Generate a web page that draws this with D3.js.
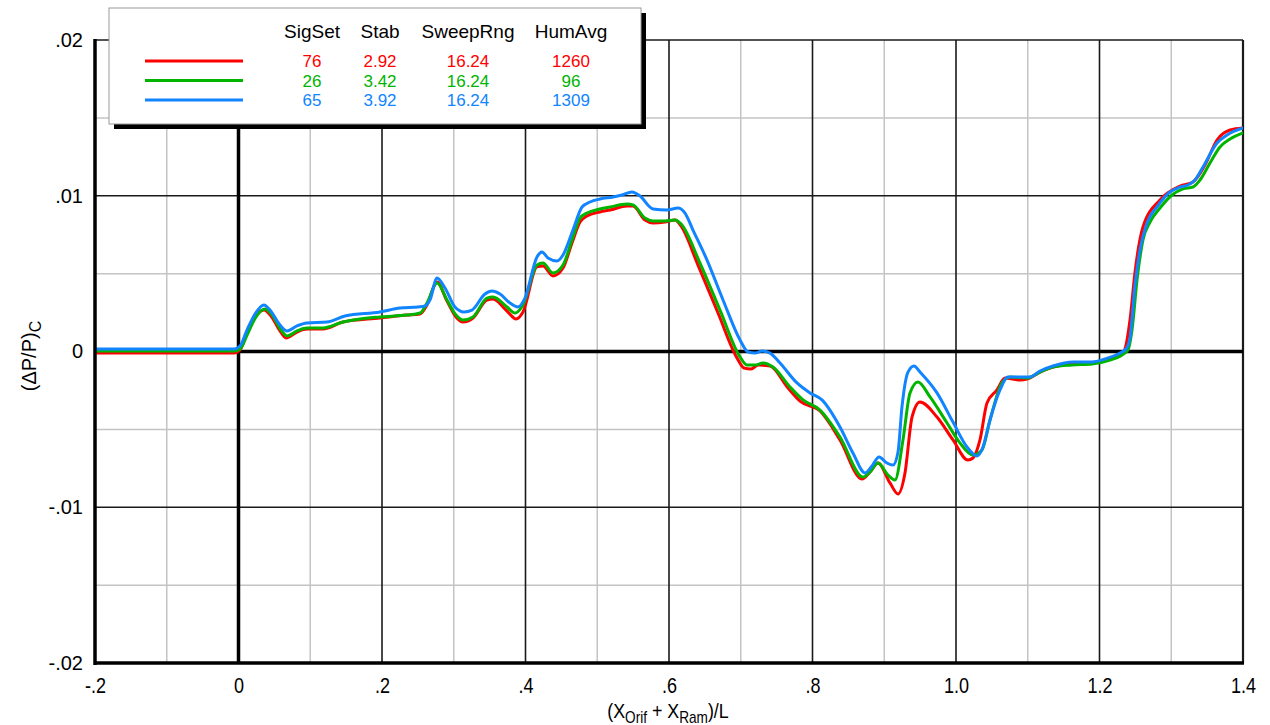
<!DOCTYPE html>
<html>
<head>
<meta charset="utf-8">
<script src="https://cdn.jsdelivr.net/npm/d3@7"></script>
<style>
  html, body { margin: 0; padding: 0; background: #fff; }
  svg { display: block; font-family: "Liberation Sans", Arial, sans-serif; }
</style>
</head>
<body>
<svg id="chart" width="1270" height="725"></svg>
<script>
// Pressure signature curves, (dP/P)c against (X_orif + X_ram)/L
const redX = [-0.2,-0.0063,0.0021,0.0118,0.0230,0.0355,0.0453,0.0578,0.0662,0.0815,0.0955,0.1178,0.1456,0.1972,0.2348,0.2530,0.2627,0.2767,0.2906,0.3031,0.3129,0.3268,0.3463,0.3547,0.3742,0.3868,0.3965,0.4160,0.4244,0.4383,0.4523,0.4648,0.4760,0.4857,0.5038,0.5178,0.5415,0.5498,0.5666,0.5777,0.5944,0.6084,0.6167,0.6404,0.6683,0.6948,0.7045,0.7143,0.7241,0.7408,0.7658,0.7840,0.8105,0.8383,0.8690,0.8801,0.8913,0.9080,0.9192,0.9289,0.9387,0.9498,0.9735,0.9958,1.0167,1.0237,1.0334,1.0432,1.0571,1.0683,1.0892,1.0990,1.1171,1.1352,1.1617,1.1895,1.2146,1.2286,1.2355,1.2425,1.2495,1.2606,1.2843,1.3122,1.3303,1.3470,1.3638,1.3819,1.4];
const redY = [-0.0001,-0.0001,0.0001,0.00119,0.00222,0.00266,0.00228,0.00132,0.00087,0.00125,0.00144,0.00144,0.00189,0.00215,0.00234,0.00241,0.00299,0.00446,0.00324,0.00222,0.00189,0.00215,0.00331,0.00337,0.0026,0.00209,0.00254,0.00543,0.00549,0.00485,0.00536,0.00697,0.00831,0.0087,0.00896,0.00908,0.00934,0.00934,0.00844,0.00825,0.00831,0.00844,0.00806,0.00555,0.00247,-0.00042,-0.00106,-0.00112,-0.00087,-0.00093,-0.00234,-0.00324,-0.00382,-0.00568,-0.00819,-0.00774,-0.00716,-0.00844,-0.00915,-0.0078,-0.00421,-0.00324,-0.00421,-0.00568,-0.00697,-0.00684,-0.00568,-0.00331,-0.00247,-0.0017,-0.00183,-0.00177,-0.00132,-0.001,-0.0008,-0.00074,-0.00048,-0.00029,0.00016,0.00202,0.0051,0.00799,0.00973,0.01062,0.01088,0.01197,0.01358,0.01422,0.01435];

const greenX = [-0.2,-0.0063,0.0021,0.0132,0.0244,0.0369,0.0467,0.0592,0.0676,0.0815,0.0955,0.1178,0.1456,0.1972,0.2348,0.2530,0.2627,0.2767,0.2906,0.3031,0.3129,0.3268,0.3463,0.3547,0.3742,0.3854,0.3965,0.4160,0.4244,0.4383,0.4523,0.4648,0.4760,0.4857,0.5038,0.5178,0.5415,0.5498,0.5666,0.5777,0.5944,0.6084,0.6167,0.6432,0.6711,0.6990,0.7087,0.7199,0.7310,0.7449,0.7686,0.7868,0.8105,0.8383,0.8704,0.8801,0.8913,0.9052,0.9150,0.9261,0.9359,0.9470,0.9638,0.9875,1.0056,1.0237,1.0362,1.0474,1.0641,1.0753,1.0990,1.1171,1.1352,1.1617,1.1895,1.2146,1.2314,1.2397,1.2453,1.2523,1.2606,1.2704,1.2843,1.3010,1.3164,1.3303,1.3401,1.3540,1.3679,1.3819,1.4];
const greenY = [0.00003,0.00003,0.00016,0.00119,0.00222,0.00273,0.00234,0.00138,0.001,0.00132,0.00151,0.00151,0.00189,0.00222,0.00234,0.00247,0.00311,0.0044,0.00331,0.00234,0.00202,0.00222,0.00343,0.0035,0.00286,0.00247,0.00299,0.00555,0.00568,0.00504,0.00555,0.00716,0.00857,0.00889,0.00915,0.00928,0.00947,0.00941,0.00857,0.00838,0.00838,0.00844,0.00819,0.00568,0.00266,-0.00035,-0.00087,-0.00087,-0.00074,-0.001,-0.00228,-0.00311,-0.00376,-0.00549,-0.00806,-0.00774,-0.00716,-0.00793,-0.00825,-0.00568,-0.00266,-0.00196,-0.00292,-0.00459,-0.00588,-0.00665,-0.00632,-0.0044,-0.00202,-0.00164,-0.0017,-0.00132,-0.001,-0.00087,-0.0008,-0.00055,-0.00022,0.0001,0.00138,0.00459,0.00716,0.00831,0.00921,0.01005,0.01044,0.01056,0.01101,0.0121,0.01313,0.01364,0.01403];

const blueX = [-0.2,-0.0063,0.0021,0.0118,0.0230,0.0355,0.0439,0.0578,0.0676,0.0815,0.0955,0.1233,0.1484,0.1972,0.2251,0.2502,0.2599,0.2669,0.2767,0.2878,0.3017,0.3143,0.3254,0.3435,0.3533,0.3645,0.3784,0.3895,0.3993,0.4160,0.4230,0.4314,0.4439,0.4523,0.4662,0.4788,0.4899,0.5038,0.5220,0.5345,0.5484,0.5596,0.5777,0.5972,0.6125,0.6223,0.6334,0.6530,0.6753,0.6990,0.7101,0.7199,0.7296,0.7408,0.7547,0.7784,0.7965,0.8132,0.8383,0.8564,0.8732,0.8829,0.8927,0.9038,0.9122,0.9192,0.9247,0.9331,0.9415,0.9498,0.9735,0.9958,1.0153,1.0293,1.0376,1.0474,1.0613,1.0725,1.0892,1.1031,1.1171,1.1352,1.1631,1.1895,1.2077,1.2286,1.2369,1.2425,1.2495,1.2564,1.2662,1.2801,1.2983,1.3122,1.3233,1.3331,1.3443,1.3638,1.3777,1.4];
const blueY = [0.00016,0.00016,0.00035,0.00138,0.00241,0.00299,0.00266,0.0017,0.00132,0.00164,0.00183,0.00189,0.00228,0.00254,0.00279,0.00286,0.00292,0.00331,0.00472,0.00408,0.00286,0.00254,0.00266,0.00369,0.00388,0.00369,0.00311,0.00286,0.00343,0.00607,0.00639,0.006,0.00581,0.0062,0.0078,0.00928,0.0096,0.00979,0.00992,0.01005,0.01024,0.00998,0.00915,0.00908,0.00921,0.00889,0.0078,0.00587,0.00331,0.00074,-0.00003,-0.0001,0.00003,-0.0001,-0.00074,-0.00202,-0.00266,-0.00311,-0.00485,-0.00652,-0.0078,-0.00735,-0.00677,-0.00716,-0.00729,-0.00645,-0.00356,-0.00132,-0.00093,-0.00132,-0.00266,-0.00453,-0.00613,-0.00671,-0.00613,-0.0044,-0.00247,-0.00164,-0.00164,-0.00164,-0.00125,-0.00093,-0.00067,-0.00067,-0.00048,-0.0001,0.00016,0.00087,0.00427,0.00652,0.00825,0.00928,0.01024,0.01056,0.01069,0.01101,0.01185,0.01339,0.0139,0.01435];

// Legend table
const seriesColors = ["#ff0000", "#00b400", "#1184ff"];
const legendHeaders = ["SigSet", "Stab", "SweepRng", "HumAvg"];
const sigSet = ["76", "26", "65"];
const stab = ["2.92", "3.42", "3.92"];
const sweepRng = ["16.24", "16.24", "16.24"];
const humAvg = ["1260", "96", "1309"];

// Axis ticks
const xTicks = [-0.2, 0, 0.2, 0.4, 0.6, 0.8, 1.0, 1.2, 1.4];
const xTickLabels = ["-.2", "0", ".2", ".4", ".6", ".8", "1.0", "1.2", "1.4"];
const yTicks = [-0.02, -0.01, 0, 0.01, 0.02];
const yTickLabels = ["-.02", "-.01", "0", ".01", ".02"];

const svg = d3.select("#chart");
const plot = { left: 95, right: 1243, top: 40, bottom: 663 };

const x = d3.scaleLinear().domain([-0.2, 1.4]).range([plot.left, plot.right]);
const y = d3.scaleLinear().domain([-0.02, 0.02]).range([plot.bottom, plot.top]);

// Grid: minor lines every 0.1 / 0.005, major every 0.2 / 0.01
const grid = svg.append("g");
const xMinor = d3.range(-1, 14, 2).map(i => i / 10);
const yMinor = [-0.015, -0.005, 0.005, 0.015];
grid.selectAll(".xm").data(xMinor).join("line")
  .attr("x1", d => x(d)).attr("x2", d => x(d))
  .attr("y1", plot.top).attr("y2", plot.bottom)
  .attr("stroke", "#c4c4c4").attr("stroke-width", 1.5);
grid.selectAll(".ym").data(yMinor).join("line")
  .attr("x1", plot.left).attr("x2", plot.right)
  .attr("y1", d => y(d)).attr("y2", d => y(d))
  .attr("stroke", "#c4c4c4").attr("stroke-width", 1.5);
grid.selectAll(".xM").data(xTicks.filter(d => d !== 0 && d !== -0.2 && d !== 1.4)).join("line")
  .attr("x1", d => x(d)).attr("x2", d => x(d))
  .attr("y1", plot.top).attr("y2", plot.bottom)
  .attr("stroke", "#1a1a1a").attr("stroke-width", 1.6);
grid.selectAll(".yM").data(yTicks.filter(d => d !== 0 && d !== -0.02)).join("line")
  .attr("x1", plot.left).attr("x2", plot.right)
  .attr("y1", d => y(d)).attr("y2", d => y(d))
  .attr("stroke", "#1a1a1a").attr("stroke-width", 1.6);

// Frame and zero lines
svg.append("line").attr("x1", x(1.4)).attr("x2", x(1.4)).attr("y1", plot.top).attr("y2", plot.bottom)
  .attr("stroke", "#1a1a1a").attr("stroke-width", 2.2);
svg.append("line").attr("x1", x(0)).attr("x2", x(0)).attr("y1", plot.top).attr("y2", plot.bottom)
  .attr("stroke", "#000").attr("stroke-width", 3.5);
svg.append("line").attr("x1", plot.left).attr("x2", plot.right).attr("y1", y(0)).attr("y2", y(0))
  .attr("stroke", "#000").attr("stroke-width", 3.5);

// Curves
const series = [
  { xs: redX, ys: redY, color: seriesColors[0] },
  { xs: greenX, ys: greenY, color: seriesColors[1] },
  { xs: blueX, ys: blueY, color: seriesColors[2] }
];
svg.append("clipPath").attr("id", "clip").append("rect")
  .attr("x", plot.left).attr("y", plot.top)
  .attr("width", plot.right - plot.left).attr("height", plot.bottom - plot.top);
const line = d3.line().x(d => x(d[0])).y(d => y(d[1])).curve(d3.curveMonotoneX);
svg.append("g").attr("clip-path", "url(#clip)")
  .selectAll("path").data(series).join("path")
  .attr("d", s => line(s.xs.map((v, i) => [v, s.ys[i]])))
  .attr("fill", "none").attr("stroke", s => s.color)
  .attr("stroke-width", 3).attr("stroke-linejoin", "round").attr("stroke-linecap", "round");

// Left and bottom borders
svg.append("line").attr("x1", plot.left).attr("x2", plot.left).attr("y1", plot.top - 1).attr("y2", plot.bottom + 2)
  .attr("stroke", "#000").attr("stroke-width", 3.5);
svg.append("line").attr("x1", plot.left - 1).attr("x2", plot.right + 1).attr("y1", plot.bottom).attr("y2", plot.bottom)
  .attr("stroke", "#000").attr("stroke-width", 3.5);

// Axes (labels only)
const xAxis = d3.axisBottom(x).tickValues(xTicks).tickSize(0).tickPadding(14)
  .tickFormat((d, i) => xTickLabels[i]);
const gx = svg.append("g").attr("transform", `translate(0,${plot.bottom})`).call(xAxis);
gx.select(".domain").remove();
gx.selectAll("text").attr("font-size", 22).attr("fill", "#000")
  .attr("font-family", "Liberation Sans, Arial, sans-serif")
  .attr("transform", "scale(0.82,1)");

const yAxis = d3.axisLeft(y).tickValues(yTicks).tickSize(0).tickPadding(12)
  .tickFormat((d, i) => yTickLabels[i]);
const gy = svg.append("g").attr("transform", `translate(${plot.left},0)`).call(yAxis);
gy.select(".domain").remove();
gy.selectAll("text").attr("font-size", 20).attr("fill", "#000")
  .attr("font-family", "Liberation Sans, Arial, sans-serif");

// Axis titles
const xt = svg.append("text").attr("transform", "translate(668,718) scale(0.85,1)")
  .attr("text-anchor", "middle").attr("font-size", 21).attr("fill", "#000");
xt.append("tspan").text("(X");
xt.append("tspan").attr("font-size", 16).attr("dy", 5).text("Orif");
xt.append("tspan").attr("dy", -5).text(" + X");
xt.append("tspan").attr("font-size", 16).attr("dy", 5).text("Ram");
xt.append("tspan").attr("dy", -5).text(")/L");

const yt = svg.append("text").attr("transform", "translate(36,356) rotate(-90)")
  .attr("text-anchor", "middle").attr("font-size", 20).attr("fill", "#000");
yt.append("tspan").text("(ΔP/P)");
yt.append("tspan").attr("font-size", 16).attr("dy", 5).text("C");

// Legend box with drop shadow
const lg = svg.append("g");
const box = { x: 109, y: 8, w: 532, h: 116 };
lg.append("rect").attr("x", box.x + 5).attr("y", box.y + 5).attr("width", box.w).attr("height", box.h)
  .attr("fill", "#000");
lg.append("rect").attr("x", box.x).attr("y", box.y).attr("width", box.w).attr("height", box.h)
  .attr("fill", "#fff").attr("stroke", "#9a9a9a").attr("stroke-width", 1);

const colX = [312, 380, 468, 571];
lg.selectAll(".hdr").data(legendHeaders).join("text")
  .attr("x", (d, i) => colX[i]).attr("y", 38)
  .attr("text-anchor", "middle").attr("font-size", 19).attr("fill", "#000").text(d => d);

const rowY = [61, 80.5, 100];
const columns = [sigSet, stab, sweepRng, humAvg];
seriesColors.forEach((c, r) => {
  lg.append("line").attr("x1", 145).attr("x2", 243).attr("y1", rowY[r]).attr("y2", rowY[r])
    .attr("stroke", c).attr("stroke-width", 3);
  columns.forEach((col, ci) => {
    lg.append("text").attr("x", colX[ci]).attr("y", rowY[r] + 6)
      .attr("text-anchor", "middle").attr("font-size", 17).attr("fill", c).text(col[r]);
  });
});
</script>
</body>
</html>
